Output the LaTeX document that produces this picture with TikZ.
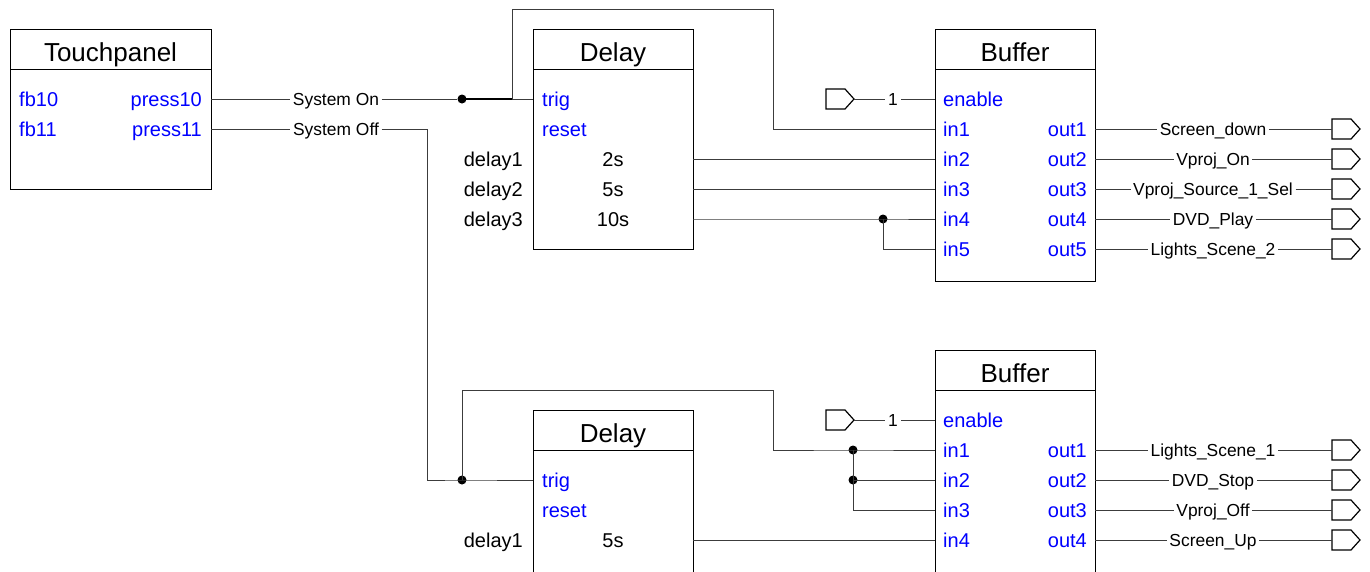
\documentclass[tikz,border=0pt]{standalone}
\usepackage{fontspec}
\setmainfont{Liberation Sans}
\definecolor{portblue}{RGB}{0,0,255}
\definecolor{wiregray}{RGB}{60,60,60}
\begin{document}
\begin{tikzpicture}[x=1pt,y=-1pt,
  blk/.style={draw, line width=1.2pt, rectangle, inner sep=0pt, anchor=north west, minimum width=160pt},
  ttl/.style={font=\fontsize{26}{30}\selectfont, text height=18.6pt, text depth=0pt, inner sep=0pt},
  pin/.style={font=\fontsize{20}{24}\selectfont, text=portblue, text height=14.3pt, text depth=0pt, inner sep=0pt},
  val/.style={font=\fontsize{20}{24}\selectfont, text height=14.3pt, text depth=0pt, inner sep=0pt},
  sig/.style={font=\fontsize{17.4}{20}\selectfont, text height=12.5pt, text depth=0pt, inner xsep=2.5pt, inner ysep=0pt},
  wire/.style={draw=wiregray, line width=1pt},
  jn/.style={circle, fill=black, inner sep=0pt, minimum size=9pt},
  termline/.style={draw, line width=1.2pt, line join=miter}
]
\useasboundingbox (0,0) rectangle (1370,571);

% ---------- Touchpanel ----------
\node[blk, minimum width=201pt, minimum height=40pt] (tpT) at (10,29) {};
\node[blk, minimum width=201pt, minimum height=120pt] (tpB) at (10,69) {};
\node[ttl] (tpTxt) at (110.5,52) {Touchpanel};
\node[pin, anchor=west] (tpfb10) at (19,99) {fb10};
\node[pin, anchor=west] (tpfb11) at (19,129) {fb11};
\node[pin, anchor=east] (tpp10) at (202,99) {press10};
\node[pin, anchor=east] (tpp11) at (202,129) {press11};
\coordinate (tpo1) at (211,99);
\coordinate (tpo2) at (211,129);

% ---------- Delay (top) ----------
\node[blk, minimum height=40pt] (dAT) at (533,29) {};
\node[blk, minimum height=180pt] (dAB) at (533,69) {};
\node[ttl] (dATxt) at (613,52) {Delay};
\node[pin, anchor=west] (dAtrig) at (542,99) {trig};
\node[pin, anchor=west] (dAreset) at (542,129) {reset};
\node[val] (dAv1) at (613,159) {2s};
\node[val] (dAv2) at (613,189) {5s};
\node[val] (dAv3) at (613,219) {10s};
\node[val, anchor=east] (dAl1) at (523,159) {delay1};
\node[val, anchor=east] (dAl2) at (523,189) {delay2};
\node[val, anchor=east] (dAl3) at (523,219) {delay3};
\coordinate (dAi) at (533,99);
\coordinate (dAo1) at (693,159);
\coordinate (dAo2) at (693,189);
\coordinate (dAo3) at (693,219);

% ---------- Buffer (top) ----------
\node[blk, minimum height=40pt] (bAT) at (935,29) {};
\node[blk, minimum height=212pt] (bAB) at (935,69) {};
\node[ttl] (bATxt) at (1015,52) {Buffer};
\node[pin, anchor=west] (bAen) at (943,99) {enable};
\foreach \k/\y in {1/129,2/159,3/189,4/219,5/249}{
  \node[pin, anchor=west] (bAin\k) at (943,\y) {in\k};
  \node[pin, anchor=east] (bAout\k) at (1087,\y) {out\k};
  \coordinate (bAi\k) at (935,\y);
  \coordinate (bAo\k) at (1095,\y);
}
\coordinate (bAe) at (935,99);

% ---------- Delay (bottom) ----------
\node[blk, minimum height=40pt] (dBT) at (533,410) {};
\node[blk, minimum height=140pt] (dBB) at (533,450) {};
\node[ttl] (dBTxt) at (613,433) {Delay};
\node[pin, anchor=west] (dBtrig) at (542,480) {trig};
\node[pin, anchor=west] (dBreset) at (542,510) {reset};
\node[val] (dBv1) at (613,540) {5s};
\node[val, anchor=east] (dBl1) at (523,540) {delay1};
\coordinate (dBi) at (533,480);
\coordinate (dBo1) at (693,540);

% ---------- Buffer (bottom) ----------
\node[blk, minimum height=40pt] (bBT) at (935,350) {};
\node[blk, minimum height=200pt] (bBB) at (935,390) {};
\node[ttl] (bBTxt) at (1015,373) {Buffer};
\node[pin, anchor=west] (bBen) at (943,420) {enable};
\foreach \k/\y in {1/450,2/480,3/510,4/540}{
  \node[pin, anchor=west] (bBin\k) at (943,\y) {in\k};
  \node[pin, anchor=east] (bBout\k) at (1087,\y) {out\k};
  \coordinate (bBi\k) at (935,\y);
  \coordinate (bBo\k) at (1095,\y);
}
\coordinate (bBe) at (935,420);

% ---------- Wires: System On ----------
\node[sig] (sOn) at (336,99) {System On};
\node[jn] (j1) at (462,99) {};
\coordinate (c1) at (512,99);
\coordinate (c2) at (773,9);
\draw[wire] (tpo1) -- (sOn) -- (j1);
\draw[draw=black, line width=2pt] (j1.center) -- (c1);
\draw[wire] (c1) -- (dAi);
\draw[wire] (c1) |- (c2) |- (bAi1);

% ---------- Wires: System Off ----------
\node[sig] (sOff) at (336,129) {System Off};
\coordinate (c3) at (427,129);
\node[jn] (j2) at (462,480) {};
\coordinate (c4) at (773,390);
\node[jn] (j3) at (853,450) {};
\node[jn] (j4) at (853,480) {};
\draw[wire] (tpo2) -- (sOff) -- (c3) |- (j2.center) -- (dBi);
\draw[wire] (j2.center) |- (c4) |- (j3.center) -- (bBi1);
\draw[wire] (j3.center) |- (bBi3);
\draw[wire] (j4.center) -- (bBi2);
\draw[wire] (dBo1) -- (bBi4);

% ---------- Wires: top delay to buffer ----------
\node[jn] (j5) at (883,219) {};
\draw[wire] (dAo1) -- (bAi2);
\draw[wire] (dAo2) -- (bAi3);
\draw[wire] (dAo3) -- (j5.center) -- (bAi4);
\draw[wire] (j5.center) |- (bAi5);

% ---------- Enable terminals ----------
\coordinate (tA) at (826,99);
\coordinate (tAp) at (854,99);
\draw[termline] (tA) ++(0,-10) -- ++(19,0) -- (tAp) -- ++(-9,10) -- ++(-19,0) -- cycle;
\node[sig, inner xsep=3pt] (oneA) at (893,99) {1};
\draw[wire] (tAp) -- (oneA) -- (bAe);
\coordinate (tB) at (826,420);
\coordinate (tBp) at (854,420);
\draw[termline] (tB) ++(0,-10) -- ++(19,0) -- (tBp) -- ++(-9,10) -- ++(-19,0) -- cycle;
\node[sig, inner xsep=3pt] (oneB) at (893,420) {1};
\draw[wire] (tBp) -- (oneB) -- (bBe);

% ---------- Outputs (top) ----------
\foreach \k/\y/\t in {1/129/Screen\_down,2/159/Vproj\_On,3/189/Vproj\_Source\_1\_Sel,4/219/DVD\_Play,5/249/Lights\_Scene\_2}{
  \node[sig] (oA\k) at (1213,\y) {\t};
  \coordinate (tA\k) at (1332,\y);
  \draw[termline] (tA\k) ++(0,-10) -- ++(19,0) -- ++(9,10) -- ++(-9,10) -- ++(-19,0) -- cycle;
  \draw[wire] (bAo\k) -- (oA\k) -- (tA\k);
}
% ---------- Outputs (bottom) ----------
\foreach \k/\y/\t in {1/450/Lights\_Scene\_1,2/480/DVD\_Stop,3/510/Vproj\_Off,4/540/Screen\_Up}{
  \node[sig] (oB\k) at (1213,\y) {\t};
  \coordinate (tB\k) at (1332,\y);
  \draw[termline] (tB\k) ++(0,-10) -- ++(19,0) -- ++(9,10) -- ++(-9,10) -- ++(-19,0) -- cycle;
  \draw[wire] (bBo\k) -- (oB\k) -- (tB\k);
}
\end{tikzpicture}
\end{document}
